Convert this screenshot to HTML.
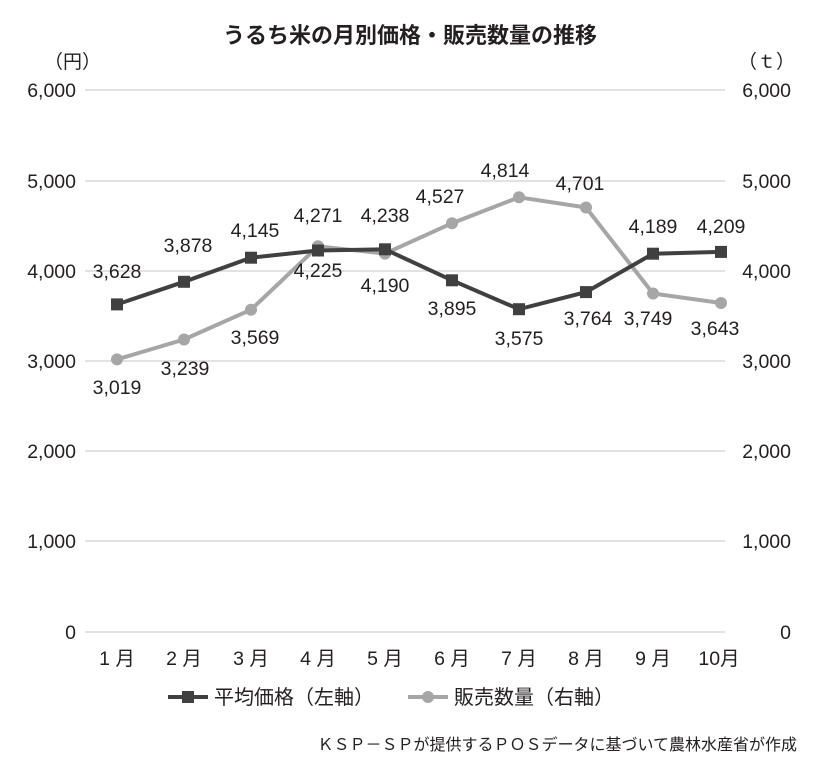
<!DOCTYPE html><html><head><meta charset="utf-8"><style>body{margin:0;background:#fff}svg{display:block}text{font-family:"Liberation Sans","Noto Sans CJK JP",sans-serif;fill:#231f20}</style></head><body>
<svg width="820" height="774" xmlns="http://www.w3.org/2000/svg">
<text x="410" y="43" font-size="22" font-weight="bold" text-anchor="middle">うるち米の月別価格・販売数量の推移</text>
<text x="44" y="68" font-size="19">（円）</text>
<text x="738" y="68" font-size="19">（ｔ）</text>
<g stroke="#d9d9d9" stroke-width="1.5">
<line x1="85" x2="725" y1="90" y2="90"/><line x1="85" x2="725" y1="181" y2="181"/><line x1="85" x2="725" y1="271" y2="271"/><line x1="85" x2="725" y1="361" y2="361"/><line x1="85" x2="725" y1="451" y2="451"/><line x1="85" x2="725" y1="541" y2="541"/><line x1="85" x2="725" y1="632" y2="632"/></g>
<g font-size="19.5" text-anchor="end">
<text x="76" y="97">6,000</text><text x="76" y="188">5,000</text><text x="76" y="278">4,000</text><text x="76" y="368">3,000</text><text x="76" y="458">2,000</text><text x="76" y="548">1,000</text><text x="76" y="639">0</text></g>
<g font-size="19.5" text-anchor="end">
<text x="791" y="97">6,000</text><text x="791" y="188">5,000</text><text x="791" y="278">4,000</text><text x="791" y="368">3,000</text><text x="791" y="458">2,000</text><text x="791" y="548">1,000</text><text x="791" y="639">0</text></g>
<g font-size="19.5" text-anchor="middle">
<text x="117" y="665">1 月</text><text x="184" y="665">2 月</text><text x="251" y="665">3 月</text><text x="318" y="665">4 月</text><text x="385" y="665">5 月</text><text x="452" y="665">6 月</text><text x="519" y="665">7 月</text><text x="586" y="665">8 月</text><text x="653" y="665">9 月</text><text x="719" y="665">10月</text></g>
<polyline fill="none" stroke="#a6a6a6" stroke-width="4" points="117,359.4 184,339.5 251,309.7 318,246.3 385,253.6 452,223.2 519,197.3 586,207.5 653,293.5 721,303"/>
<g fill="#a6a6a6"><circle cx="117" cy="359.4" r="6"/><circle cx="184" cy="339.5" r="6"/><circle cx="251" cy="309.7" r="6"/><circle cx="318" cy="246.3" r="6"/><circle cx="385" cy="253.6" r="6"/><circle cx="452" cy="223.2" r="6"/><circle cx="519" cy="197.3" r="6"/><circle cx="586" cy="207.5" r="6"/><circle cx="653" cy="293.5" r="6"/><circle cx="721" cy="303" r="6"/></g>
<polyline fill="none" stroke="#404040" stroke-width="4" points="117,304.4 184,281.8 251,257.7 318,250.5 385,249.3 452,280.3 519,309.2 586,292.1 653,253.7 721,251.9"/>
<g fill="#404040"><rect x="111" y="298.4" width="12" height="12"/><rect x="178" y="275.8" width="12" height="12"/><rect x="245" y="251.7" width="12" height="12"/><rect x="312" y="244.5" width="12" height="12"/><rect x="379" y="243.3" width="12" height="12"/><rect x="446" y="274.3" width="12" height="12"/><rect x="513" y="303.2" width="12" height="12"/><rect x="580" y="286.1" width="12" height="12"/><rect x="647" y="247.7" width="12" height="12"/><rect x="715" y="245.9" width="12" height="12"/></g>
<g font-size="19.5" text-anchor="middle">
<text x="117" y="278">3,628</text><text x="188" y="252">3,878</text><text x="255" y="237">4,145</text><text x="318" y="277">4,225</text><text x="385" y="222">4,238</text><text x="452" y="315">3,895</text><text x="519" y="345">3,575</text><text x="588" y="325">3,764</text><text x="653" y="233">4,189</text><text x="721" y="233">4,209</text>
<text x="117" y="394">3,019</text><text x="185" y="375">3,239</text><text x="255" y="344">3,569</text><text x="318" y="222">4,271</text><text x="385" y="292">4,190</text><text x="440" y="203">4,527</text><text x="505" y="177">4,814</text><text x="580" y="190">4,701</text><text x="648" y="325">3,749</text><text x="715" y="335">3,643</text></g>
<line x1="168" x2="208" y1="697" y2="697" stroke="#404040" stroke-width="4"/><rect x="182" y="691" width="12" height="12" fill="#404040"/>
<text x="214" y="704" font-size="20">平均価格（左軸）</text>
<line x1="408" x2="448" y1="697" y2="697" stroke="#a6a6a6" stroke-width="4"/><circle cx="428" cy="697" r="6" fill="#a6a6a6"/>
<text x="454" y="704" font-size="20">販売数量（右軸）</text>
<text x="797" y="750" font-size="16" text-anchor="end">ＫＳＰ－ＳＰが提供するＰＯＳデータに基づいて農林水産省が作成</text>
</svg></body></html>
